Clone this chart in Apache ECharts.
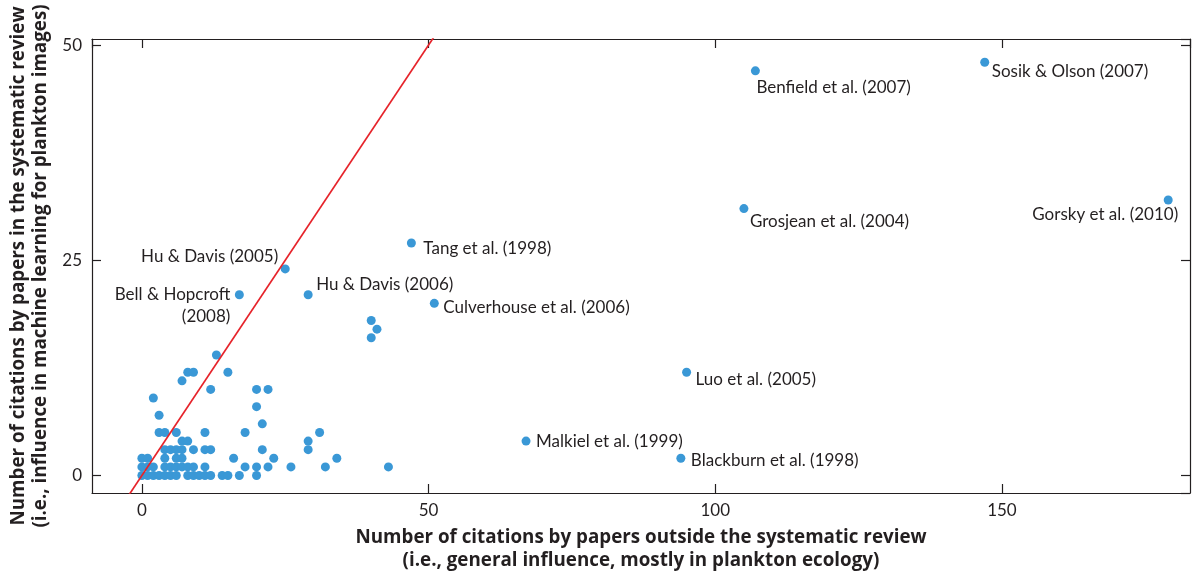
<!DOCTYPE html>
<html><head><meta charset="utf-8">
<script src="https://cdn.jsdelivr.net/npm/echarts@6/dist/echarts.min.js"></script>
<style>html,body{margin:0;padding:0;background:#fff;overflow:hidden}#c{width:1196px;height:572px}</style>
</head><body><div id="c"></div>
<script>
// Unlabelled papers: [x = citations outside review, y = citations inside review]
const clusterX = [0,1,2,3,4,5,6,8,9,10,11,12,14,15,17,20,
                  0,1,2,4,5,6,7,8,9,11,18,20,22,26,32,43,
                  0,1,4,6,7,16,23,34,
                  4,5,6,7,9,11,12,21,29,
                  7,8,29,
                  3,4,6,11,18,31,
                  21,3,20,2,12,20,22,7,8,9,15,13,40,41,40];
const clusterY = [0,0,0,0,0,0,0,0,0,0,0,0,0,0,0,0,
                  1,1,1,1,1,1,1,1,1,1,1,1,1,1,1,1,
                  2,2,2,2,2,2,2,2,
                  3,3,3,3,3,3,3,3,3,
                  4,4,4,
                  5,5,5,5,5,5,
                  6,7,8,9,10,10,10,11,12,12,12,14,16,17,18];
// Labelled papers
const labelNames = ["Benfield et al. (2007)","Sosik & Olson (2007)","Grosjean et al. (2004)","Gorsky et al. (2010)",
  "Tang et al. (1998)","Hu & Davis (2005)","Bell & Hopcroft\n(2008)","Hu & Davis (2006)",
  "Culverhouse et al. (2006)","Luo et al. (2005)","Malkiel et al. (1999)","Blackburn et al. (1998)"];
const labelX = [107,147,105,179,47,25,17,29,51,95,67,94];
const labelY = [47,48,31,32,27,24,21,21,20,12,4,2];
// 1:1 reference line
const refX = [-10,60];
const refY = [-10,60];
const xTicks = [0,50,100,150];
const yTicks = [0,25,50];

// label placement relative to the point centre (style only)
const labelStyle = {
  "Benfield et al. (2007)":[1,17,'left'],
  "Sosik & Olson (2007)":[7,9,'left'],
  "Grosjean et al. (2004)":[6,13,'left'],
  "Gorsky et al. (2010)":[10,15,'right'],
  "Tang et al. (1998)":[12,5,'left'],
  "Hu & Davis (2005)":[-7,-12,'right'],
  "Bell & Hopcroft\n(2008)":[-9,11,'right'],
  "Hu & Davis (2006)":[8,-10,'left'],
  "Culverhouse et al. (2006)":[9,4,'left'],
  "Luo et al. (2005)":[9,7,'left'],
  "Malkiel et al. (1999)":[10,0,'left'],
  "Blackburn et al. (1998)":[10,2,'left']
};

const FONT = 'Lato';
const TFONT = 'Open Sans';
const TXT = '#231f20';
const ptColor = '#3a98d6';
const SYM = 9;

const clusterData = clusterX.map((x,i)=>[x,clusterY[i]]);
const labelData = labelNames.map((n,i)=>{
  const s = labelStyle[n];
  return {value:[labelX[i],labelY[i]], name:n,
    label:{show:true, formatter:n, position:[SYM/2+s[0], SYM/2+s[1]], align:s[2], verticalAlign:'middle',
      color:TXT, fontFamily:FONT, fontSize:17, lineHeight:22}};
});
const refData = refX.map((x,i)=>[x,refY[i]]);

const XMIN=-8.7, XMAX=182.8, YMIN=-2.03, YMAX=50.7;
const axisCommon = {
  axisLine:{show:true, onZero:false, lineStyle:{color:'#231f20', width:1.2}},
  axisTick:{show:true, inside:true, length:9, lineStyle:{color:'#231f20', width:1.2}},
  splitLine:{show:false}
};
const chart = echarts.init(document.getElementById('c'), null, {renderer:'canvas'});
chart.setOption({
  backgroundColor:'#fff',
  animation:false,
  grid:{left:92, top:39, right:6, bottom:79, containLabel:false, outerBoundsMode:'none'},
  xAxis:[
    Object.assign({type:'value', position:'bottom', min:XMIN, max:XMAX, minInterval:50, maxInterval:50,
      axisLabel:{show:true, color:TXT, fontFamily:FONT, fontSize:17, margin:9,
        showMinLabel:false, showMaxLabel:false,
        formatter:v=>xTicks.includes(v)?String(v):''},
      name:'Number of citations by papers outside the systematic review\n(i.e., general influence, mostly in plankton ecology)',
      nameLocation:'middle', nameGap:33,
      nameTextStyle:{color:TXT, fontFamily:TFONT, fontWeight:'bold', fontSize:18.8, lineHeight:23}}, axisCommon),
    Object.assign({type:'value', position:'top', min:XMIN, max:XMAX, minInterval:50, maxInterval:50,
      axisLabel:{show:false}}, axisCommon)
  ],
  yAxis:[
    Object.assign({type:'value', position:'left', min:YMIN, max:YMAX, minInterval:25, maxInterval:25,
      axisLabel:{show:true, color:TXT, fontFamily:FONT, fontSize:17, margin:10,
        showMinLabel:false, showMaxLabel:false,
        formatter:v=>yTicks.includes(v)?String(v):''},
      name:'Number of citations by papers in the systematic review\n(i.e., influence in machine learning for plankton images)',
      nameLocation:'middle', nameGap:34,
      nameTextStyle:{color:TXT, fontFamily:TFONT, fontWeight:'bold', fontSize:18.8, lineHeight:22}}, axisCommon),
    Object.assign({type:'value', position:'right', min:YMIN, max:YMAX, minInterval:25, maxInterval:25,
      axisLabel:{show:false}}, axisCommon)
  ],
  series:[
    {type:'scatter', xAxisIndex:0, yAxisIndex:0, data:clusterData, symbolSize:SYM,
      itemStyle:{color:ptColor, opacity:1}, z:2},
    {type:'scatter', xAxisIndex:0, yAxisIndex:0, data:labelData, symbolSize:SYM,
      itemStyle:{color:ptColor, opacity:1}, z:2},
    {type:'line', xAxisIndex:0, yAxisIndex:0, data:refData, showSymbol:false, symbol:'none', clip:true,
      lineStyle:{color:'#e6232a', width:1.7}, z:3}
  ]
});
</script></body></html>
